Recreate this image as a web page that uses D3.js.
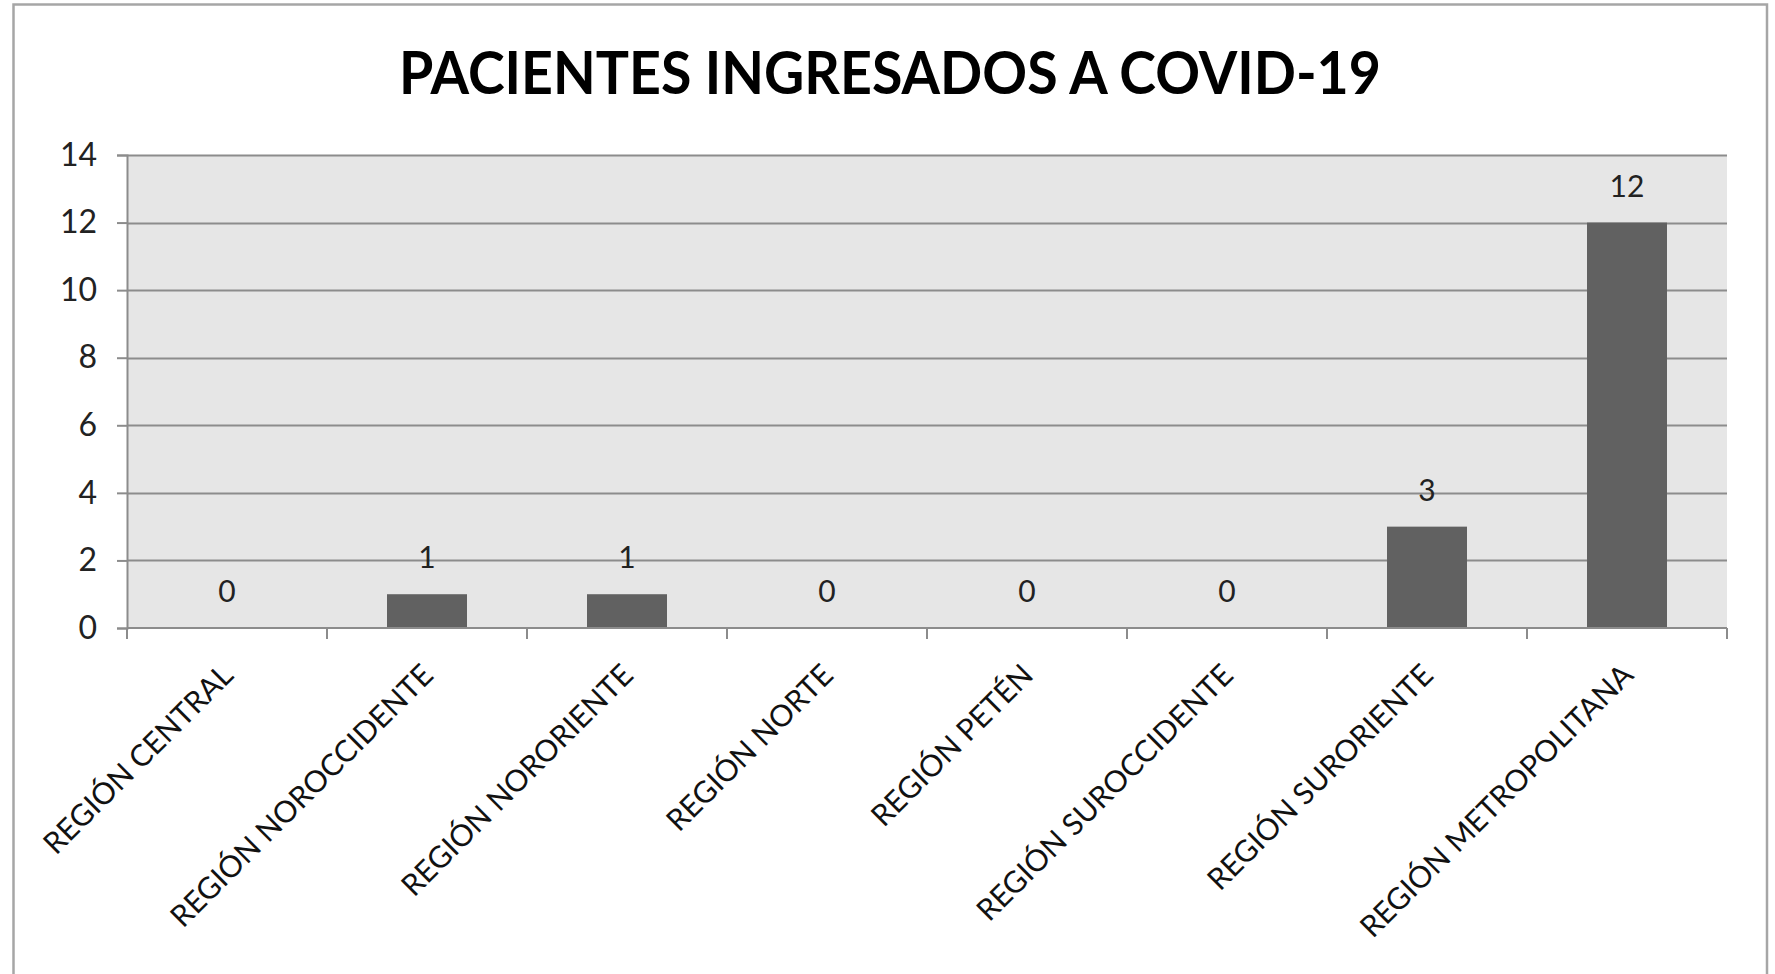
<!DOCTYPE html>
<html>
<head>
<meta charset="utf-8">
<script src="https://cdn.jsdelivr.net/npm/d3@7"></script>
<style>
  body { margin: 0; background: #fff; }
  svg text { font-family: Lato, "Open Sans", sans-serif; }
</style>
</head>
<body>
<div id="chart"></div>
<script>
const regions = [
  'REGIÓN CENTRAL',
  'REGIÓN NOROCCIDENTE',
  'REGIÓN NORORIENTE',
  'REGIÓN NORTE',
  'REGIÓN PETÉN',
  'REGIÓN SUROCCIDENTE',
  'REGIÓN SURORIENTE',
  'REGIÓN METROPOLITANA'
];
const patients = [0, 1, 1, 0, 0, 0, 3, 12];
const yTicks = [0, 2, 4, 6, 8, 10, 12, 14];
const title = 'PACIENTES INGRESADOS A COVID-19';

const chartWidth = 1775;
const chartHeight = 974;
const margin = { top: 155, right: 48, bottom: 346, left: 127 };
const width = chartWidth - margin.left - margin.right;
const height = chartHeight - margin.top - margin.bottom;

const root = d3.select('#chart')
  .append('svg')
  .attr('width', chartWidth)
  .attr('height', chartHeight);

// outer frame
root.append('rect')
  .attr('x', 13.5).attr('y', 4.5)
  .attr('width', 1767 - 13.5).attr('height', 1000)
  .attr('fill', 'none')
  .attr('stroke', '#a6a6a6')
  .attr('stroke-width', 2.5);

root.append('text')
  .attr('x', 890)
  .attr('y', 94)
  .attr('text-anchor', 'middle')
  .attr('font-size', 60)
  .attr('font-weight', 'bold')
  .attr('textLength', 982)
  .attr('lengthAdjust', 'spacingAndGlyphs')
  .attr('fill', '#000')
  .text(title);

const svg = root.append('g')
  .attr('transform', `translate(${margin.left},${margin.top})`);

const xScale = d3.scaleBand()
  .domain(regions)
  .range([0, width])
  .paddingInner(0.6)
  .paddingOuter(0.3);

const xBand = d3.scaleBand().domain(regions).range([0, width]);

const yScale = d3.scaleLinear()
  .domain([0, 14])
  .range([height, 0]);

svg.append('rect')
  .attr('width', width)
  .attr('height', height)
  .attr('fill', '#e6e6e6');

// gridlines
svg.append('g')
  .selectAll('line')
  .data(yTicks.slice(1))
  .enter()
  .append('line')
  .attr('x1', 0).attr('x2', width)
  .attr('y1', d => Math.round(yScale(d)) + 0.5)
  .attr('y2', d => Math.round(yScale(d)) + 0.5)
  .attr('stroke', '#8c8c8c')
  .attr('stroke-width', 2);

svg.selectAll('.bar')
  .data(patients)
  .enter()
  .append('rect')
  .attr('class', 'bar')
  .attr('x', (d, i) => xScale(regions[i]))
  .attr('y', d => yScale(d))
  .attr('width', xScale.bandwidth())
  .attr('height', d => height - yScale(d))
  .attr('fill', '#616161');

svg.selectAll('.value')
  .data(patients)
  .enter()
  .append('text')
  .attr('class', 'value')
  .attr('x', (d, i) => xScale(regions[i]) + xScale.bandwidth() / 2)
  .attr('y', d => yScale(d) - 26)
  .attr('text-anchor', 'middle')
  .attr('font-size', 30)
  .attr('fill', '#222')
  .text(d => d);

// y axis
const yAxis = d3.axisLeft(yScale).tickValues(yTicks).tickSize(10).tickPadding(20);
const gy = svg.append('g').call(yAxis);
gy.select('.domain').attr('stroke', '#8c8c8c').attr('stroke-width', 2);
gy.selectAll('.tick line').attr('stroke', '#8c8c8c').attr('stroke-width', 2);
gy.selectAll('.tick text')
  .attr('font-size', 32)
  .attr('fill', '#222')
  .attr('font-family', 'Lato, sans-serif');

// x axis with ticks between categories
const gx = svg.append('g').attr('transform', `translate(0,${height})`);
gx.append('line')
  .attr('x1', 0).attr('x2', width)
  .attr('y1', 0).attr('y2', 0)
  .attr('stroke', '#8c8c8c').attr('stroke-width', 2);
gx.selectAll('.xtick')
  .data(regions.concat(['end']))
  .enter()
  .append('line')
  .attr('class', 'xtick')
  .attr('x1', (d, i) => i < regions.length ? xBand(d) : width)
  .attr('x2', (d, i) => i < regions.length ? xBand(d) : width)
  .attr('y1', 0).attr('y2', 11)
  .attr('stroke', '#8c8c8c').attr('stroke-width', 2);

gx.selectAll('.xlabel')
  .data(regions)
  .enter()
  .append('text')
  .attr('class', 'xlabel')
  .attr('transform', d => `translate(${xBand(d) + xBand.bandwidth() / 2 + 8},${49}) rotate(-45)`)
  .attr('text-anchor', 'end')
  .attr('font-size', 30)
  .attr('fill', '#111')
  .text(d => d);
</script>
</body>
</html>
